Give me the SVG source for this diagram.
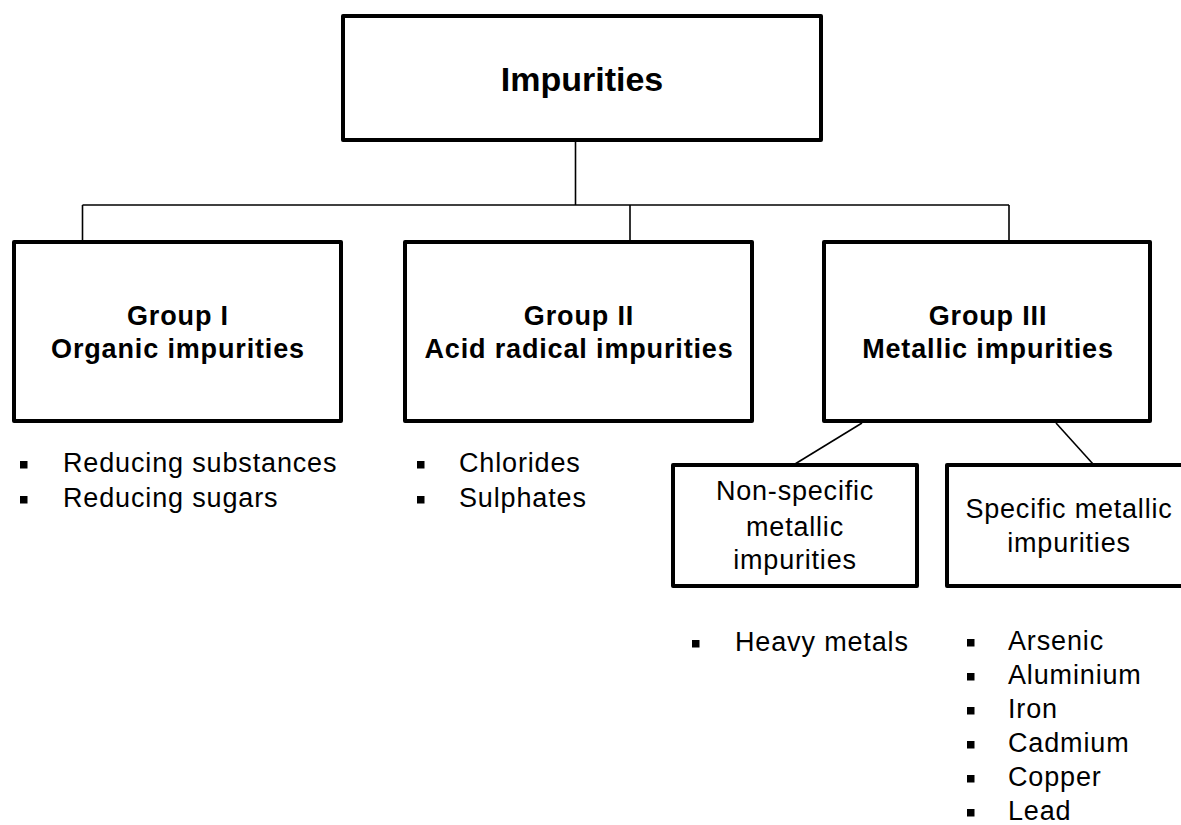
<svg xmlns="http://www.w3.org/2000/svg" width="1181" height="825" viewBox="0 0 1181 825">
  <style>
    .box { fill: #ffffff; stroke: #000000; stroke-width: 4; stroke-linejoin: round; }
    .conn { fill: none; stroke: #000000; stroke-width: 1.6; }
    .title { font-family: "Liberation Sans", Arial, sans-serif; font-weight: bold; font-size: 34px; fill: #000; text-anchor: middle; }
    .head { font-family: "Liberation Sans", Arial, sans-serif; font-weight: bold; font-size: 27px; letter-spacing: 0.85px; fill: #000; text-anchor: middle; }
    .sub { font-family: "Liberation Sans", Arial, sans-serif; font-size: 27px; letter-spacing: 0.8px; fill: #000; text-anchor: middle; }
    .item { font-family: "Liberation Sans", Arial, sans-serif; font-size: 27px; letter-spacing: 0.85px; fill: #000; }
    .bullet { fill: #000; }
  </style>
  <rect width="1181" height="825" fill="#ffffff"/>

  <!-- connectors -->
  <g id="connectors">
    <line class="conn" x1="575.5" y1="142" x2="575.5" y2="205"/>
    <line class="conn" x1="82.5" y1="205" x2="1009" y2="205"/>
    <line class="conn" x1="82.5" y1="205" x2="82.5" y2="241"/>
    <line class="conn" x1="630" y1="205" x2="630" y2="241"/>
    <line class="conn" x1="1009" y1="205" x2="1009" y2="241"/>
    <line class="conn" x1="862" y1="423" x2="795" y2="464"/>
    <line class="conn" x1="1056" y1="423" x2="1093" y2="464"/>
  </g>

  <!-- root -->
  <g id="impurities">
    <rect class="box" x="343" y="16" width="478" height="124"/>
    <text class="title" x="582" y="91">Impurities</text>
  </g>

  <!-- group I -->
  <g id="group1">
    <rect class="box" x="14" y="242" width="327" height="179"/>
    <text class="head" x="178" y="325">Group I</text>
    <text class="head" x="178" y="358">Organic impurities</text>
  </g>
  <g id="group1-list">
    <rect class="bullet" x="20" y="461" width="7.5" height="7.5"/>
    <text class="item" x="63" y="472">Reducing substances</text>
    <rect class="bullet" x="20" y="496" width="7.5" height="7.5"/>
    <text class="item" x="63" y="507">Reducing sugars</text>
  </g>

  <!-- group II -->
  <g id="group2">
    <rect class="box" x="405" y="242" width="347" height="179"/>
    <text class="head" x="579" y="325">Group II</text>
    <text class="head" x="579" y="358">Acid radical impurities</text>
  </g>
  <g id="group2-list">
    <rect class="bullet" x="417" y="461" width="7.5" height="7.5"/>
    <text class="item" x="459" y="472">Chlorides</text>
    <rect class="bullet" x="417" y="496" width="7.5" height="7.5"/>
    <text class="item" x="459" y="507">Sulphates</text>
  </g>

  <!-- group III -->
  <g id="group3">
    <rect class="box" x="824" y="242" width="326" height="179"/>
    <text class="head" x="988" y="325">Group III</text>
    <text class="head" x="988" y="358">Metallic impurities</text>
  </g>

  <!-- non-specific metallic impurities -->
  <g id="nonspecific">
    <rect class="box" x="673" y="465" width="244" height="121"/>
    <text class="sub" x="795" y="500">Non-specific</text>
    <text class="sub" x="795" y="536">metallic</text>
    <text class="sub" x="795" y="569">impurities</text>
  </g>
  <g id="nonspecific-list">
    <rect class="bullet" x="692" y="640" width="7.5" height="7.5"/>
    <text class="item" x="735" y="651">Heavy metals</text>
  </g>

  <!-- specific metallic impurities -->
  <g id="specific">
    <rect class="box" x="947" y="465" width="250" height="121"/>
    <text class="sub" x="1069" y="518">Specific metallic</text>
    <text class="sub" x="1069" y="552">impurities</text>
  </g>
  <g id="specific-list">
    <rect class="bullet" x="967" y="639" width="7.5" height="7.5"/>
    <text class="item" x="1008" y="650">Arsenic</text>
    <rect class="bullet" x="967" y="673" width="7.5" height="7.5"/>
    <text class="item" x="1008" y="684">Aluminium</text>
    <rect class="bullet" x="967" y="707" width="7.5" height="7.5"/>
    <text class="item" x="1008" y="718">Iron</text>
    <rect class="bullet" x="967" y="741" width="7.5" height="7.5"/>
    <text class="item" x="1008" y="752">Cadmium</text>
    <rect class="bullet" x="967" y="775" width="7.5" height="7.5"/>
    <text class="item" x="1008" y="786">Copper</text>
    <rect class="bullet" x="967" y="809" width="7.5" height="7.5"/>
    <text class="item" x="1008" y="820">Lead</text>
  </g>
</svg>
